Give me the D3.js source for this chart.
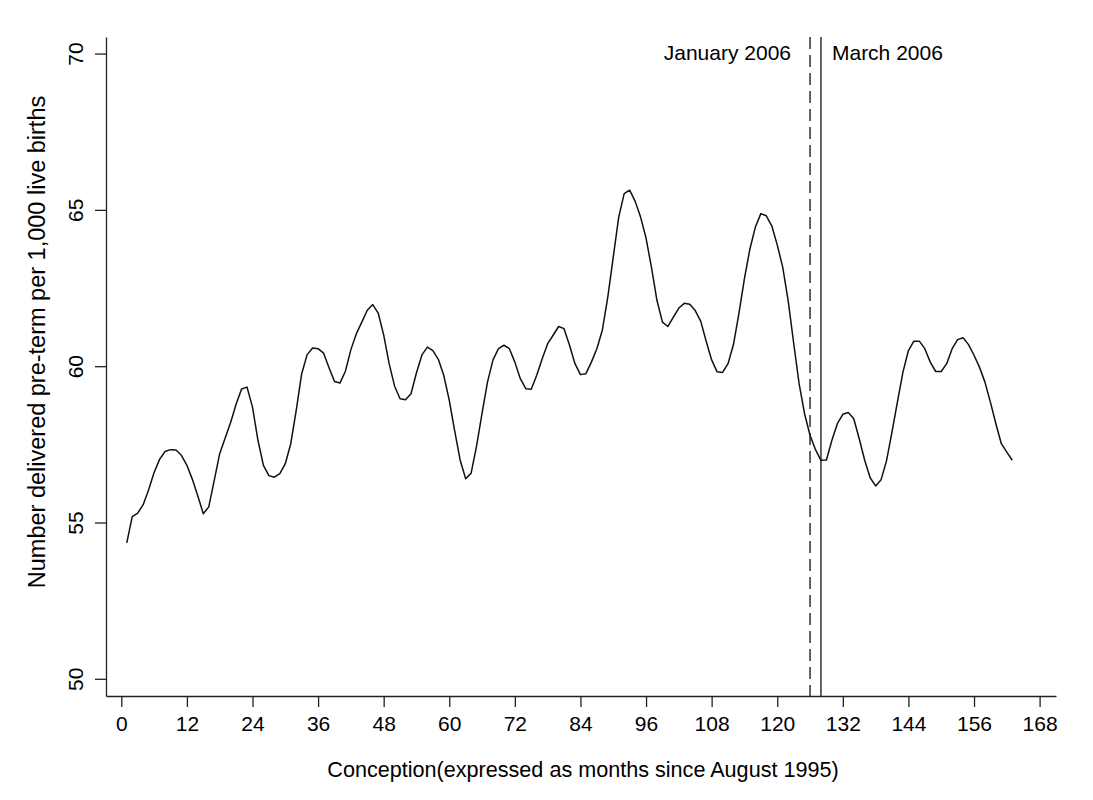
<!DOCTYPE html>
<meta charset="utf-8" />
<head>
  <script src="https://d3js.org/d3.v7.min.js"></script>
  <style>
    body {
      margin: 0;
      background: #fff;
    }
    text {
      font-family: "Liberation Sans", Arial, sans-serif;
      font-size: 21px;
      fill: #000;
    }
  </style>
</head>
<body>
  <div id="chart"></div>
</body>
<script>
  // pre-term births per 1,000 live births, by month of conception
  // first value is month 1 (months since August 1995)
  const firstMonth = 1;
  const rate = [
    54.35, 55.19, 55.3, 55.57, 56.05, 56.6, 57.02, 57.27, 57.33, 57.32,
    57.15, 56.83, 56.38, 55.85, 55.28, 55.5, 56.35, 57.2, 57.7, 58.2,
    58.78, 59.27, 59.33, 58.69, 57.63, 56.83, 56.5, 56.45, 56.56, 56.88,
    57.52, 58.59, 59.76, 60.37, 60.58, 60.56, 60.42, 59.95, 59.51, 59.46,
    59.84, 60.53, 61.04, 61.41, 61.79, 61.97, 61.7, 61.0, 60.08, 59.36,
    58.96, 58.93, 59.12, 59.79, 60.36, 60.61, 60.5, 60.22, 59.7, 58.91,
    57.92, 56.99, 56.4, 56.58, 57.45, 58.5, 59.5, 60.2, 60.56, 60.67,
    60.56, 60.13, 59.6, 59.28, 59.26, 59.71, 60.24, 60.72, 60.99, 61.27,
    61.2, 60.67, 60.08, 59.73, 59.76, 60.13, 60.56, 61.15, 62.21, 63.49,
    64.77, 65.52, 65.63, 65.28, 64.77, 64.1, 63.15, 62.1, 61.41, 61.27,
    61.57, 61.86, 62.01, 61.98, 61.78, 61.44, 60.8, 60.2, 59.82, 59.8,
    60.08, 60.7, 61.7, 62.8, 63.75, 64.45, 64.88, 64.81, 64.49, 63.88,
    63.17, 62.1, 60.75, 59.44, 58.48, 57.79, 57.33, 56.99, 57.0, 57.63,
    58.16, 58.46, 58.52, 58.32, 57.68, 56.99, 56.43, 56.17, 56.37, 56.98,
    57.9, 58.87, 59.81, 60.5, 60.8, 60.8, 60.56, 60.13, 59.83, 59.83,
    60.08, 60.56, 60.85, 60.91, 60.69, 60.35, 59.97, 59.49, 58.85, 58.16,
    57.52, 57.25, 56.99
  ];

  const xTicks = [0, 12, 24, 36, 48, 60, 72, 84, 96, 108, 120, 132, 144, 156, 168];
  const yTicks = [50, 55, 60, 65, 70];

  const eventMonths = [126, 128];
  const eventLabels = ["January 2006", "March 2006"];
  const eventDashed = [true, false];

  const W = 1093,
    H = 800;
  var plot = { left: 106, right: 1056, top: 37, bottom: 696 };

  var svg = d3
    .select("#chart")
    .append("svg")
    .attr("width", W)
    .attr("height", H);

  var x = d3.scaleLinear().domain([-2.8, 171]).range([plot.left, plot.right]);
  var y = d3.scaleLinear().domain([49.45, 70.53]).range([plot.bottom, plot.top]);

  // x axis
  var gx = svg
    .append("g")
    .attr("transform", "translate(0," + plot.bottom + ")")
    .call(
      d3.axisBottom(x).tickValues(xTicks).tickSize(11).tickPadding(9).tickSizeOuter(0)
    );

  // y axis, labels turned like the original
  var gy = svg
    .append("g")
    .attr("transform", "translate(" + plot.left + ",0)")
    .call(
      d3.axisLeft(y).tickValues(yTicks).tickSize(11).tickSizeOuter(0).tickFormat(d3.format("d"))
    );
  gy.selectAll(".tick text")
    .attr("transform", "rotate(-90)")
    .attr("x", 0)
    .attr("y", -23)
    .attr("dy", null)
    .style("text-anchor", "middle");

  [gx, gy].forEach((g) => {
    g.selectAll("path, line").attr("stroke", "#222").attr("stroke-width", 1.3);
  });

  // intervention lines
  eventMonths.forEach((m, i) => {
    svg
      .append("line")
      .attr("x1", x(m))
      .attr("x2", x(m))
      .attr("y1", plot.top)
      .attr("y2", plot.bottom)
      .attr("stroke", "#111")
      .attr("stroke-width", 1.3)
      .attr("stroke-dasharray", eventDashed[i] ? "12,6" : null);
  });

  svg
    .append("text")
    .attr("x", x(eventMonths[0]) - 19)
    .attr("y", 60)
    .style("text-anchor", "end")
    .text(eventLabels[0]);
  svg
    .append("text")
    .attr("x", x(eventMonths[1]) + 11)
    .attr("y", 60)
    .style("text-anchor", "start")
    .text(eventLabels[1]);

  // series
  var line = d3
    .line()
    .x((d, i) => x(firstMonth + i))
    .y((d) => y(d));

  svg
    .append("path")
    .datum(rate)
    .attr("fill", "none")
    .attr("stroke", "#111")
    .attr("stroke-width", 1.5)
    .attr("stroke-linejoin", "round")
    .attr("d", line);

  // axis titles
  svg
    .append("text")
    .attr("x", 583)
    .attr("y", 777)
    .style("text-anchor", "middle")
    .style("font-size", "21.6px")
    .text("Conception(expressed as months since August 1995)");

  svg
    .append("text")
    .attr("transform", "translate(45,342) rotate(-90)")
    .style("text-anchor", "middle")
    .style("font-size", "23.5px")
    .text("Number delivered pre-term per 1,000 live births");
</script>
